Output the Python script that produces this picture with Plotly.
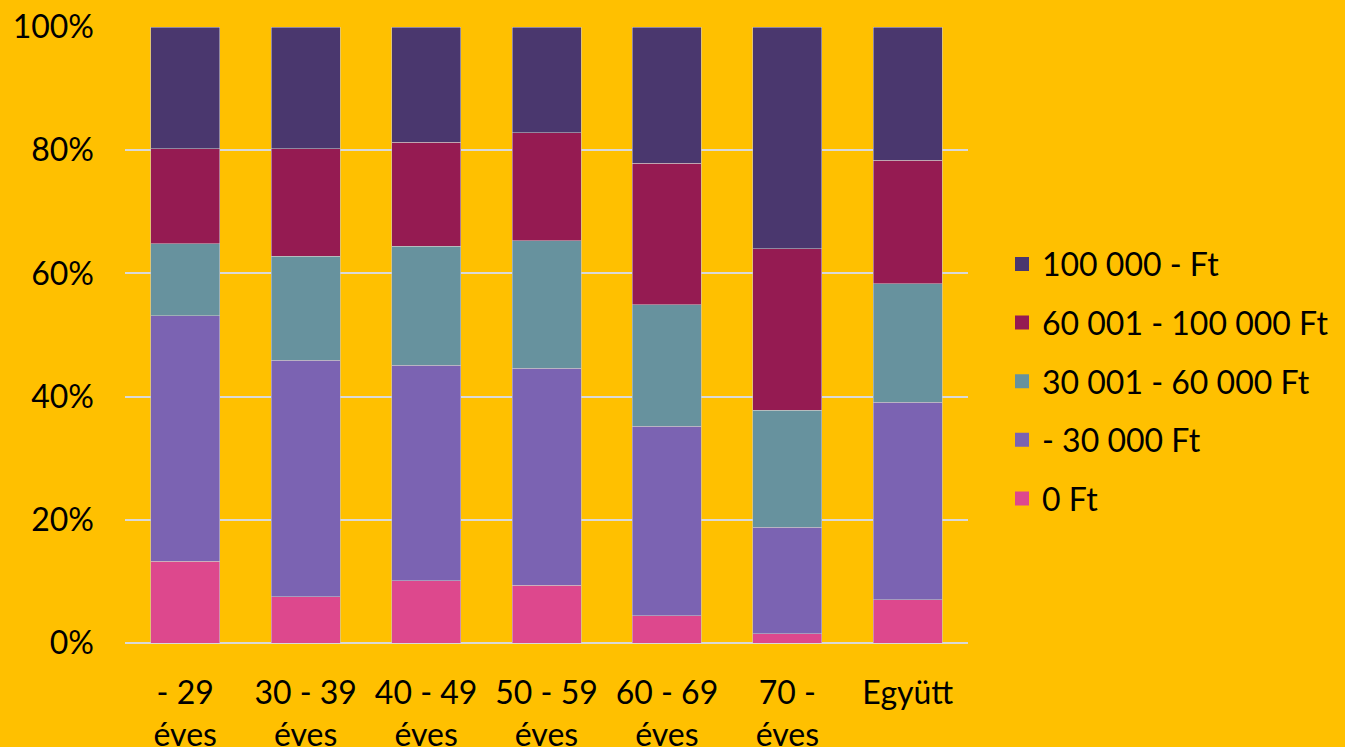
import plotly.graph_objects as go

categories = ["- 29<br>éves", "30 - 39<br>éves", "40 - 49<br>éves", "50 - 59<br>éves",
              "60 - 69<br>éves", "70 -<br>éves", "Együtt"]

series_names = ["0 Ft", "- 30 000 Ft", "30 001 - 60 000 Ft", "60 001 - 100 000 Ft", "100 000 - Ft"]
v_0 = [13.3, 7.5, 10.1, 9.4, 4.4, 1.5, 7.0]
v_30k = [39.8, 38.4, 35.0, 35.2, 30.8, 17.3, 32.1]
v_60k = [11.7, 16.9, 19.3, 20.7, 19.7, 19.0, 19.2]
v_100k = [15.4, 17.4, 16.9, 17.5, 23.0, 26.2, 20.1]
v_over = [19.8, 19.8, 18.7, 17.2, 22.1, 36.0, 21.6]
series_values = [v_0, v_30k, v_60k, v_100k, v_over]
colors = ["#DD488D", "#7B63B2", "#67929E", "#951B52", "#4A376E"]

FONT = "Lato, 'Open Sans', sans-serif"

fig = go.Figure()
for name, vals, col in zip(series_names, series_values, colors):
    fig.add_trace(go.Bar(
        x=categories, y=vals, name=name, showlegend=False,
        marker=dict(color=col, line=dict(color="rgba(200,200,200,0.7)", width=0.8)),
    ))
# legend proxies (square markers), top item = last series
n = len(series_names)
for i in range(n - 1, -1, -1):
    fig.add_trace(go.Scatter(
        x=[None], y=[None], mode="markers", name=series_names[i],
        legendgroup=f"g{i}", legendrank=n - i,
        marker=dict(symbol="square", size=16, color=colors[i],
                    line=dict(color=colors[i], width=2)),
    ))

fig.update_layout(
    barmode="stack",
    barnorm="percent",
    bargap=0.427,
    width=1345, height=747,
    paper_bgcolor="#FFC000", plot_bgcolor="#FFC000",
    margin=dict(l=125, r=377, t=27, b=104, autoexpand=False),
    font=dict(family=FONT, size=32, color="black"),
    legend=dict(
        x=(1002 - 125) / 843, xanchor="left",
        y=0.425, yanchor="middle",
        traceorder="grouped", tracegroupgap=14,
        font=dict(family=FONT, size=32, color="black"),
        bgcolor="rgba(0,0,0,0)",
        itemsizing="constant",
    ),
    xaxis=dict(showgrid=False, showline=False, ticks="", tickfont=dict(size=32),
               tickangle=0, ticklabelstandoff=28, automargin=False),
    yaxis=dict(range=[0, 100], dtick=20, ticksuffix="%", showgrid=True,
               gridcolor="#D9D9D9", gridwidth=2, zeroline=True, zerolinecolor="#D9D9D9",
               zerolinewidth=2, showline=False, ticklabelstandoff=30,
               tickfont=dict(size=32), automargin=False),
)

fig.write_html("out.html", config={"displayModeBar": False},
               post_script="document.body.style.margin='0';document.body.style.overflow='hidden';")
